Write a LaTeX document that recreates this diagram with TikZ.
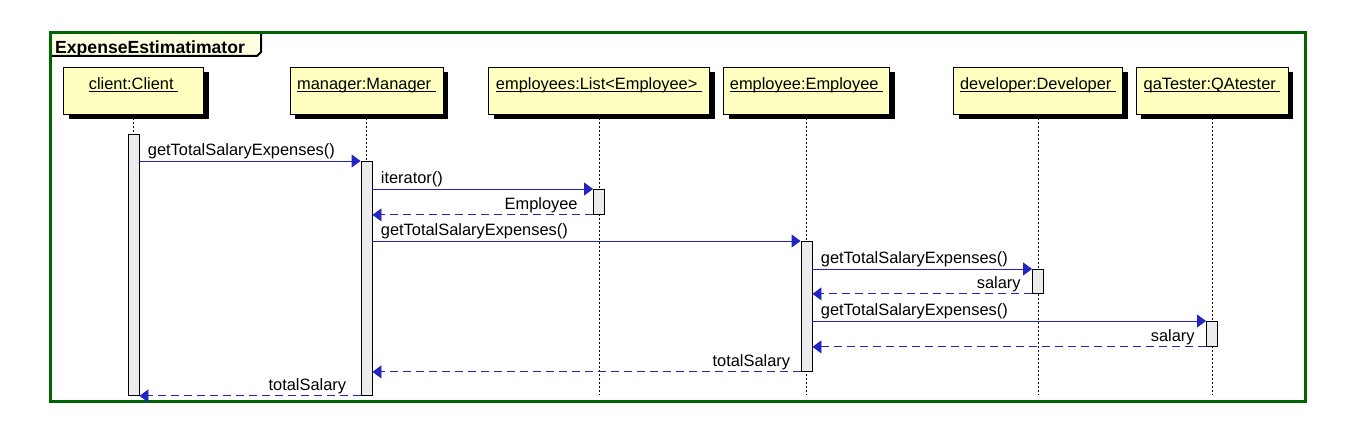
\documentclass[tikz,border=0pt]{standalone}
\usepackage{fontspec}
\setmainfont{Liberation Sans}
\usepackage{tikz}
\usetikzlibrary{positioning}
\usetikzlibrary{arrows.meta}
\usetikzlibrary{shadows}
\usepackage{xcolor}

\definecolor{framegreen}{RGB}{0,100,0}
\definecolor{tabfill}{RGB}{255,255,226}
\definecolor{objfill}{RGB}{255,255,192}
\definecolor{actfill}{RGB}{236,236,236}
\definecolor{msgblue}{RGB}{36,36,196}

\newcommand{\lblfont}{\fontsize{16.4}{19}\selectfont}
\newcommand{\objname}[1]{\setbox0\hbox{#1\ }\rlap{\rule[-2.5pt]{\wd0}{1pt}}\box0}

\tikzset{
obj/.style={draw, fill=objfill, line width=0.9pt, inner sep=4pt,
  minimum height=47pt, text height=19pt, text depth=20pt, font=\lblfont,
  drop shadow={shadow xshift=5pt, shadow yshift=-5pt, fill=black, opacity=1}},
act/.style={draw, fill=actfill, line width=0.9pt, inner sep=0pt,
  minimum width=11pt, anchor=north},
lifeline/.style={black, line width=0.9pt, dash pattern=on 2pt off 2pt},
call/.style={msgblue, line width=0.9pt, -{Triangle[length=9pt,width=13pt]}},
reply/.style={call, dash pattern=on 8pt off 5pt},
msglbl/.style={inner sep=0pt, font=\lblfont, text=black}
}

\begin{document}
\begin{tikzpicture}[x=1pt, y=-1pt]
\useasboundingbox (0,0) rectangle (1358,430);

%frame and its tab
\fill[tabfill] (50,33) rectangle (261,56);
\draw[black, line width=2pt] (50,56)--(257,56)--(261,52)--(261,33);
\draw[framegreen, line width=3pt] (50,33) rectangle (1305,401);
\node[anchor=base west, inner sep=0pt, font=\fontsize{17.6}{20}\selectfont\bfseries] (title) at (55,54) {ExpenseEstimatimator};

%objects
\node[obj, minimum width=140pt] (client) at (133.5,90.5) {\objname{client:Client}};
\node[obj, minimum width=153pt] (manager) at (366.5,90.5) {\objname{manager:Manager}};
\node[obj, minimum width=221pt] (employees) at (599,90.5) {\objname{employees:List<Employee>}};
\node[obj, minimum width=166pt] (employee) at (806.5,90.5) {\objname{employee:Employee}};
\node[obj, minimum width=169pt] (developer) at (1038,90.5) {\objname{developer:Developer}};
\node[obj, minimum width=152pt] (qatester) at (1212,90.5) {\objname{qaTester:QAtester}};

%lifelines
\coordinate (lifeend) at (0,395);
\foreach \o in {client,manager,employees,employee,developer,qatester}
  \draw[lifeline] (\o.south)--(\o.south |- lifeend);

%activations
\node[act, minimum height=261pt] (cact) at (133.5,134) {};
\node[act, minimum height=234pt] (mact) at (366.5,161) {};
\node[act, minimum height=25pt] (lact) at (599,189) {};
\node[act, minimum height=130pt] (eact) at (806.5,241) {};
\node[act, minimum height=24pt] (dact) at (1038,269) {};
\node[act, minimum height=25pt] (qact) at (1212,321) {};

%messages
\draw[call] (cact.east |- mact.north)--(mact.north west)
  node[msglbl, pos=0, anchor=base west, xshift=8pt, yshift=5pt] {getTotalSalaryExpenses()};
\draw[call] (mact.east |- lact.north)--(lact.north west)
  node[msglbl, pos=0, anchor=base west, xshift=8pt, yshift=5pt] {iterator()};
\draw[reply] (lact.south west)--(mact.east |- lact.south)
  node[msglbl, pos=0, anchor=base east, xshift=-15pt, yshift=5pt] {Employee};
\draw[call] (mact.east |- eact.north)--(eact.north west)
  node[msglbl, pos=0, anchor=base west, xshift=8pt, yshift=5pt] {getTotalSalaryExpenses()};
\draw[call] (eact.east |- dact.north)--(dact.north west)
  node[msglbl, pos=0, anchor=base west, xshift=8pt, yshift=5pt] {getTotalSalaryExpenses()};
\draw[reply] (dact.south west)--(eact.east |- dact.south)
  node[msglbl, pos=0, anchor=base east, xshift=-11pt, yshift=5pt] {salary};
\draw[call] (eact.east |- qact.north)--(qact.north west)
  node[msglbl, pos=0, anchor=base west, xshift=8pt, yshift=5pt] {getTotalSalaryExpenses()};
\draw[reply] (qact.south west)--(eact.east |- qact.south)
  node[msglbl, pos=0, anchor=base east, xshift=-11pt, yshift=5pt] {salary};
\draw[reply] (eact.south west)--(mact.east |- eact.south)
  node[msglbl, pos=0, anchor=base east, xshift=-10pt, yshift=5pt] {totalSalary};
\draw[reply] (mact.south west)--(cact.east |- mact.south)
  node[msglbl, pos=0, anchor=base east, xshift=-14pt, yshift=5pt] {totalSalary};

\end{tikzpicture}
\end{document}
